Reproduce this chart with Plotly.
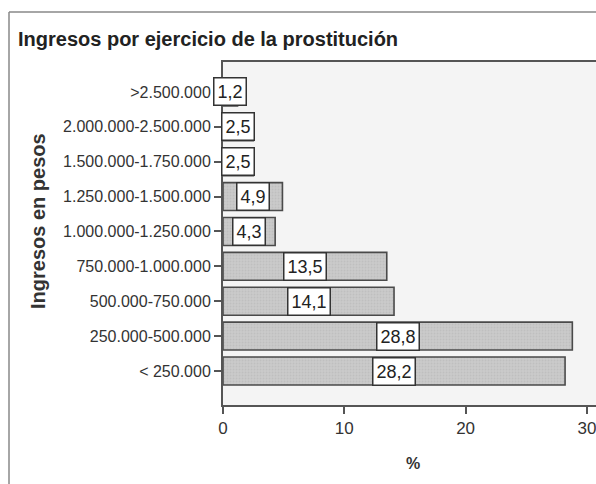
import plotly.graph_objects as go

# Data (bottom to top)
categories = ["< 250.000", "250.000-500.000", "500.000-750.000", "750.000-1.000.000",
              "1.000.000-1.250.000", "1.250.000-1.500.000", "1.500.000-1.750.000",
              "2.000.000-2.500.000", ">2.500.000"]
percentages = [28.2, 28.8, 14.1, 13.5, 4.3, 4.9, 2.5, 2.5, 1.2]
labels = ["28,2", "28,8", "14,1", "13,5", "4,3", "4,9", "2,5", "2,5", "1,2"]
x_ticks = [0, 10, 20, 30]

title_text = "Ingresos por ejercicio de la prostitución"
y_title = "Ingresos en pesos"
x_title = "%"

W, H = 596, 484
PLOT_L, PLOT_T, PLOT_B = 223, 62, 405   # pixel coords of the plot area
ML, MT, MB, MR = PLOT_L, PLOT_T, H - PLOT_B, 0
PW, PH = W - ML - MR, H - MT - MB

def px_x(px):
    return (px - PLOT_L) / PW

def px_y(py):
    return (PLOT_B - py) / PH

FONT = "Liberation Sans, Arial, sans-serif"

fig = go.Figure()
fig.add_trace(go.Bar(
    x=percentages, y=categories, orientation="h", width=0.8,
    marker=dict(color="#cacaca", line=dict(color="#4a4a4a", width=1.6),
                pattern=dict(shape=".", fgcolor="#b4b4b4", size=3, solidity=0.3)),
    hoverinfo="skip", showlegend=False,
))

annotations = []
for c, v, t in zip(categories, percentages, labels):
    annotations.append(dict(
        x=v / 2, y=c, xref="x", yref="y", text=t, showarrow=False,
        font=dict(family=FONT, size=18, color="#222"),
        bgcolor="white", bordercolor="#333", borderwidth=1.5, borderpad=3,
    ))

annotations.append(dict(
    x=px_x(16), y=px_y(39), xref="paper", yref="paper", text="<b>" + title_text + "</b>",
    showarrow=False, xanchor="left", yanchor="middle",
    font=dict(family=FONT, size=20, color="#222"),
))
annotations.append(dict(
    x=px_x(38), y=px_y(221), xref="paper", yref="paper", text="<b>" + y_title + "</b>",
    showarrow=False, xanchor="center", yanchor="middle", textangle=-90,
    font=dict(family=FONT, size=20, color="#333"),
))
annotations.append(dict(
    x=px_x(413), y=px_y(463), xref="paper", yref="paper", text="<b>" + x_title + "</b>",
    showarrow=False, xanchor="center", yanchor="middle",
    font=dict(family=FONT, size=16, color="#333"),
))

shapes = [
    # outer frame (left & top edges)
    dict(type="line", xref="paper", yref="paper", x0=px_x(9), y0=px_y(12), x1=px_x(9), y1=px_y(490),
         line=dict(color="#888", width=1.5)),
    dict(type="line", xref="paper", yref="paper", x0=px_x(9), y0=px_y(12), x1=px_x(600), y1=px_y(12),
         line=dict(color="#888", width=1.5)),
]

fig.update_layout(
    width=W, height=H,
    margin=dict(l=ML, r=MR, t=MT, b=MB, pad=0, autoexpand=False),
    paper_bgcolor="white", plot_bgcolor="#f4f4f4",
    annotations=annotations, shapes=shapes,
    font=dict(family=FONT, color="#333"),
    bargap=0.2,
)
fig.update_xaxes(
    range=[0, PW / 12.13], tickvals=x_ticks, ticktext=[str(v) for v in x_ticks],
    showgrid=False, zeroline=False, showline=True, linecolor="#555", linewidth=2, mirror=True,
    ticks="outside", ticklen=7, tickwidth=2, tickcolor="#555", automargin=False,
    ticklabeloverflow="allow",
    tickfont=dict(family=FONT, size=17, color="#333"),
)
fig.update_yaxes(
    type="category", categoryorder="array", categoryarray=categories,
    range=[-0.975, 8.86], showgrid=False, zeroline=False,
    showline=True, linecolor="#555", linewidth=2, automargin=False,
    ticks="outside", ticklen=7, tickwidth=2, tickcolor="#555",
    tickfont=dict(family=FONT, size=16, color="#333"),
)

fig.write_html(
    "out.html",
    config={"displayModeBar": False},
    post_script="document.body.style.margin='0';document.body.style.overflow='hidden';",
)
